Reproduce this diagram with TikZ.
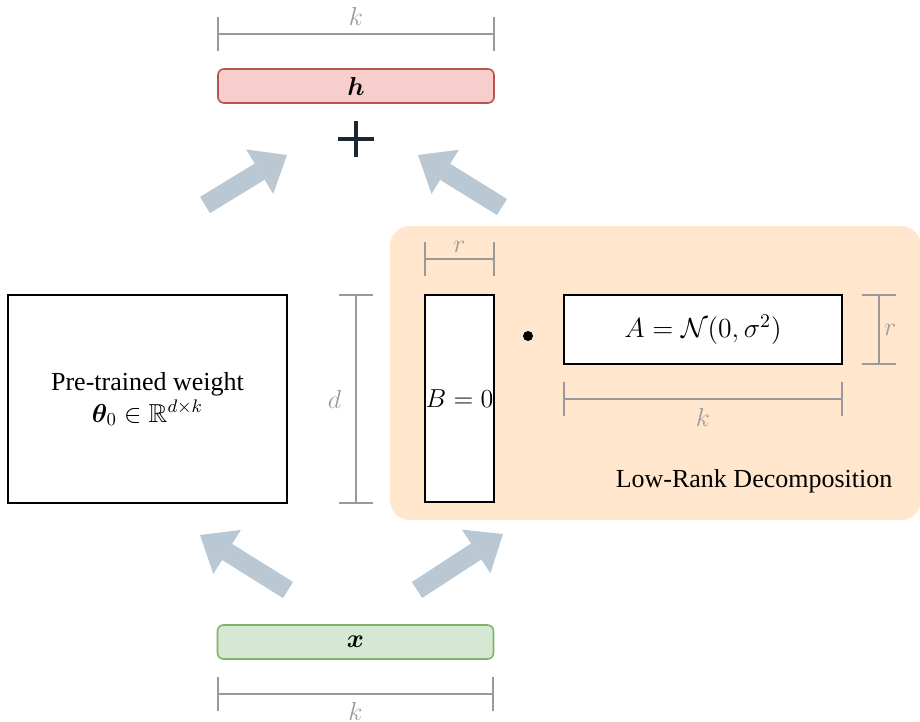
\RequirePackage{fix-cm}
\documentclass[tikz,border=0pt]{standalone}
\usepackage{amsmath,amssymb,bm}
\usepackage{fontspec}
\setmainfont{Liberation Serif}
\usepackage{xcolor}
\usetikzlibrary{arrows.meta,positioning,calc}
\definecolor{flowgray}{HTML}{BAC8D3}
\definecolor{hfill}{HTML}{F8CECC}
\definecolor{hdraw}{HTML}{B85450}
\definecolor{xfill}{HTML}{D5E8D4}
\definecolor{xdraw}{HTML}{82B366}
\definecolor{lorafill}{HTML}{FFE6CC}
\definecolor{dimgray}{HTML}{9A9A9A}
\definecolor{plusdark}{HTML}{1B2632}
\tikzset{
  matbox/.style={draw, line width=1pt, fill=white, inner sep=0pt, align=center},
  vecbox/.style={draw, rounded corners=3pt, line width=0.8pt, minimum width=138pt, minimum height=17pt, inner sep=0pt},
  dimline/.style={{Bar[width=17pt]}-{Bar[width=17pt]}, draw=dimgray, line width=1pt},
  dimlabel/.style={text=dimgray, inner sep=4pt},
  fatarrow/.style={-{Triangle[length=16pt,width=26pt,line width=0pt]}, draw=flowgray, fill=flowgray, line width=9.5pt},
  plusline/.style={draw=plusdark, line width=2.2pt},
}

\begin{document}
\begin{tikzpicture}[x=0.5pt, y=-0.5pt, font=\fontsize{13}{16}\selectfont]
  \useasboundingbox (0,0) rectangle (920,722);

  % Low-rank panel
  \node[fill=lorafill, rounded corners=10pt, minimum width=265.5pt, minimum height=147pt, inner sep=0pt] (panel) at (655.5,373) {};
  \node[anchor=base east] (lrtext) at ($(panel.south east)+(-22,-33)$) {Low-Rank Decomposition};

  % Pre-trained weight
  \node[matbox, minimum width=139.5pt, minimum height=104pt] (weight) at (147.5,399) {Pre-trained weight\\$\bm{\theta}_0\in\mathbb{R}^{d\times k}$};

  % B and A
  \node[matbox, minimum width=34.5pt, minimum height=103.5pt] (bmat) at (459.5,398.5) {$B=0$};
  \node[circle, fill=black, minimum size=5pt, inner sep=0pt] (dot) at (528,336) {};
  \node[matbox, minimum width=139pt, minimum height=34.5pt, font=\fontsize{13.8}{16}\selectfont] (amat) at (703,329.5) {$A=\mathcal{N}(0,\sigma^2)$};

  % Input and output
  \node[vecbox, fill=hfill, draw=hdraw] (hbox) at (356,86) {$\bm{h}$};
  \node[vecbox, fill=xfill, draw=xdraw] (xbox) at (355.5,642) {$\bm{x}$};

  % Plus
  \coordinate (plus) at (356,139);
  \draw[plusline] ($(plus)+(-18,0)$) -- ($(plus)+(18,0)$);
  \draw[plusline] ($(plus)+(0,-18)$) -- ($(plus)+(0,18)$);

  % Dimensions
  \draw[dimline] ($(hbox.north west)+(0,-34)$) -- node[dimlabel, above] {$k$} ($(hbox.north east)+(0,-34)$);
  \draw[dimline] ($(xbox.south west)+(0,34)$) -- node[dimlabel, below] {$k$} ($(xbox.south east)+(0,34)$);
  \draw[dimline] ($(weight.north east)+(68,0)$) -- node[dimlabel, left, xshift=-3pt] {$d$} ($(weight.south east)+(68,0)$);
  \draw[dimline] ($(bmat.north west)+(0,-35)$) -- node[dimlabel, above, inner sep=3pt] {$r$} ($(bmat.north east)+(0,-35)$);
  \draw[dimline] ($(amat.south west)+(0,34)$) -- node[dimlabel, below] {$k$} ($(amat.south east)+(0,34)$);
  \draw[dimline] ($(amat.north east)+(36,0)$) -- node[dimlabel, right, inner sep=2pt] {$r$} ($(amat.south east)+(36,0)$);

  % Flow arrows
  \coordinate (wout-s) at (205,205);
  \coordinate (wout-e) at (287,155);
  \coordinate (lout-s) at (502,207);
  \coordinate (lout-e) at (418,155);
  \coordinate (win-s) at (288,590);
  \coordinate (win-e) at (200,535);
  \coordinate (lin-s) at (417,590);
  \coordinate (lin-e) at (503,534);
  \draw[fatarrow] (wout-s) -- (wout-e);
  \draw[fatarrow] (lout-s) -- (lout-e);
  \draw[fatarrow] (win-s) -- (win-e);
  \draw[fatarrow] (lin-s) -- (lin-e);
\end{tikzpicture}
\end{document}
